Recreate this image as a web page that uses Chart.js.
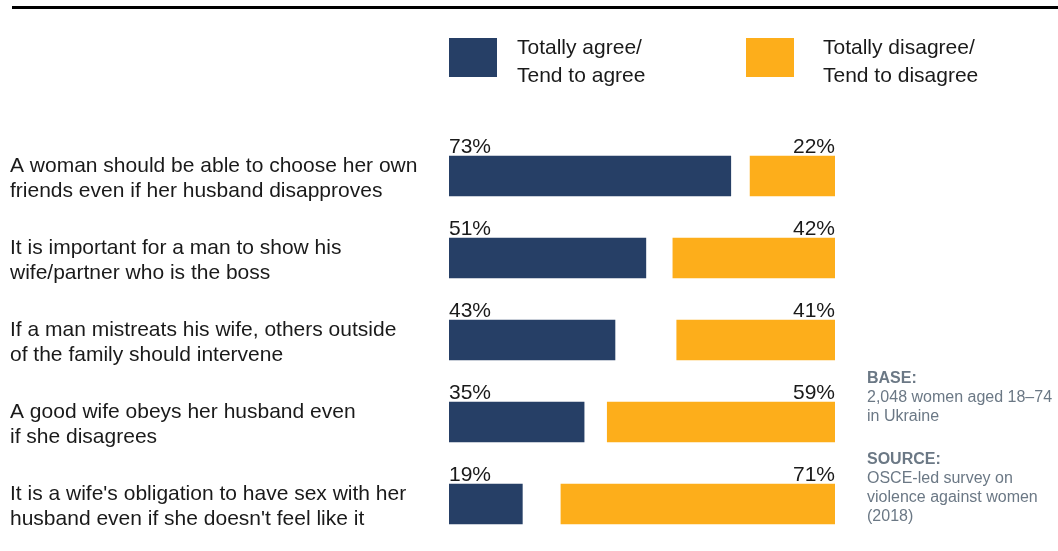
<!DOCTYPE html>
<html>
<head>
<meta charset="utf-8">
<script src="https://cdn.jsdelivr.net/npm/chart.js@4/dist/chart.umd.min.js"></script>
<style>
  html, body { margin: 0; padding: 0; background: #fff; }
  #wrap { width: 1058px; height: 551px; position: relative; }
</style>
</head>
<body>
<div id="wrap"><canvas id="attitudes"></canvas></div>
<script>
var statements = [
  ["A woman should be able to choose her own", "friends even if her husband disapproves"],
  ["It is important for a man to show his", "wife/partner who is the boss"],
  ["If a man mistreats his wife, others outside", "of the family should intervene"],
  ["A good wife obeys her husband even", "if she disagrees"],
  ["It is a wife's obligation to have sex with her", "husband even if she doesn't feel like it"]
]
var agree = [73, 51, 43, 35, 19]
var disagree = [22, 42, 41, 59, 71]
var legendLabels = [["Totally agree/", "Tend to agree"], ["Totally disagree/", "Tend to disagree"]]
var notes = [
  { head: "BASE:", lines: ["2,048 women aged 18\u201374", "in Ukraine"] },
  { head: "SOURCE:", lines: ["OSCE-led survey on", "violence against women", "(2018)"] }
]

var blue = "#263f66"
var orange = "#fdae1b"
var FONT = "'Liberation Sans', Arial, sans-serif"
var gap = agree.map(function (a, i) { return 100 - a - disagree[i] })

// frame: top rule, legend, notes on the right, % labels above bars
var extras = {
  id: "extras",
  afterDraw: function (chart) {
    var ctx = chart.ctx
    var area = chart.chartArea
    ctx.save()
    ctx.fillStyle = "#000"
    ctx.fillRect(12, 6, 1046, 3)

    // legend
    var boxes = [area.left, 746]
    var textX = [517, 823]
    var colors = [blue, orange]
    ctx.font = "21px " + FONT
    ctx.textBaseline = "middle"
    for (var k = 0; k < 2; k++) {
      ctx.fillStyle = colors[k]
      ctx.fillRect(boxes[k], 38, 48, 39)
      ctx.fillStyle = "#1a1a1a"
      ctx.fillText(legendLabels[k][0], textX[k], 48)
      ctx.fillText(legendLabels[k][1], textX[k], 76)
    }

    // percentage labels
    var xs = chart.scales.x
    var meta = chart.getDatasetMeta(0)
    ctx.textBaseline = "alphabetic"
    for (var i = 0; i < agree.length; i++) {
      var top = meta.data[i].y - 20
      ctx.textAlign = "left"
      ctx.fillText(agree[i] + "%", xs.getPixelForValue(0), top - 3)
      ctx.textAlign = "right"
      ctx.fillText(disagree[i] + "%", xs.getPixelForValue(100), top - 3)
    }

    // notes
    ctx.textAlign = "left"
    ctx.textBaseline = "middle"
    ctx.fillStyle = "#6b7885"
    var y = 379
    notes.forEach(function (n) {
      ctx.font = "bold 16px " + FONT
      ctx.fillText(n.head, 867, y)
      ctx.font = "16px " + FONT
      n.lines.forEach(function (l) {
        y += 19
        ctx.fillText(l, 867, y)
      })
      y += 43
    })
    ctx.restore()
  }
}

var chart = new Chart(document.getElementById("attitudes"), {
  type: "bar",
  data: {
    labels: statements,
    datasets: [
      { label: "Totally agree/Tend to agree", data: agree, backgroundColor: blue },
      { label: "gap", data: gap, backgroundColor: "rgba(0,0,0,0)" },
      { label: "Totally disagree/Tend to disagree", data: disagree, backgroundColor: orange }
    ]
  },
  options: {
    indexAxis: "y",
    responsive: true,
    maintainAspectRatio: false,
    animation: false,
    datasets: { bar: { barThickness: 40, borderWidth: 0 } },
    layout: { padding: { left: 10, right: 223, top: 135, bottom: 6 } },
    plugins: { legend: { display: false }, tooltip: { enabled: false } },
    scales: {
      x: { stacked: true, min: 0, max: 100, display: false },
      y: {
        stacked: true,
        grid: { display: false },
        border: { display: false },
        ticks: {
          crossAlign: "far",
          padding: 0,
          labelOffset: 3,
          color: "#1a1a1a",
          font: { family: FONT, size: 21, lineHeight: 1.2 }
        },
        afterFit: function (scale) {
          scale.width = 439
          scale.paddingTop = 0
          scale.paddingBottom = 0
        }
      }
    }
  },
  plugins: [extras]
})
</script>
</body>
</html>
